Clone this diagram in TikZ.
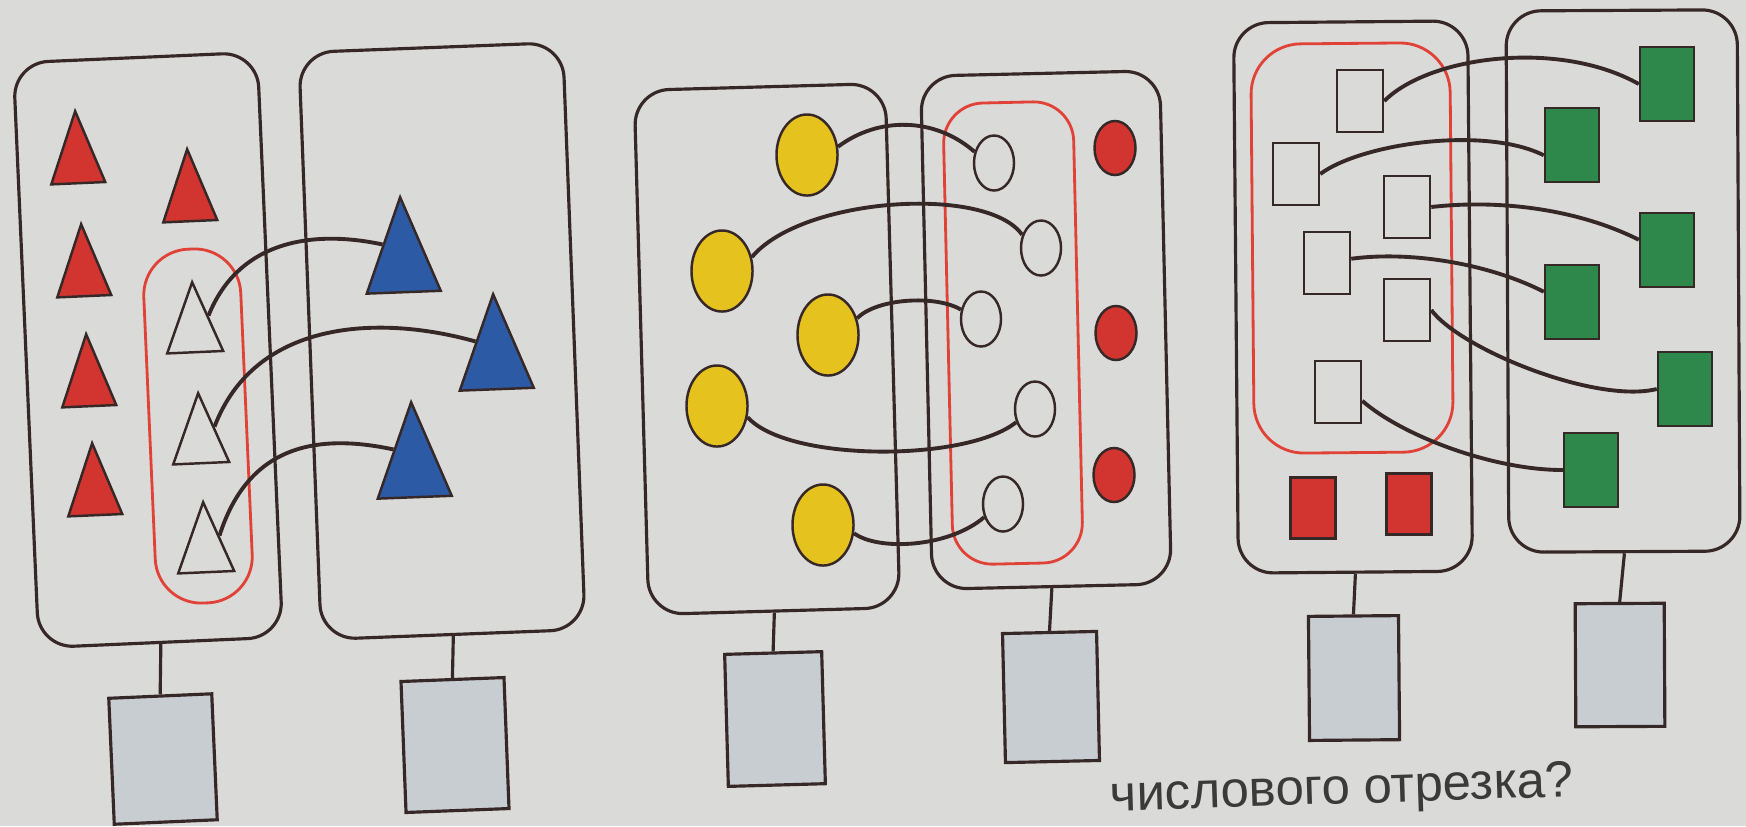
\documentclass[tikz,border=0pt]{standalone}
\usepackage{fontspec}
\setmainfont{Liberation Sans}
\usetikzlibrary{shapes.geometric}
\definecolor{paper}{HTML}{DADAD8}
\definecolor{ink}{HTML}{372828}
\definecolor{bookred}{HTML}{D2352F}
\definecolor{bookblue}{HTML}{2C5AA5}
\definecolor{bookyellow}{HTML}{E6C21F}
\definecolor{bookgreen}{HTML}{2E874B}
\definecolor{bookloop}{HTML}{E04237}
\definecolor{slotgrey}{HTML}{C8CDD2}
\definecolor{printgrey}{HTML}{3A3A3A}

\begin{document}
\begin{tikzpicture}[x=0.01cm,y=-0.01cm,
      setbox/.style={draw=ink,line width=0.9pt,rounded corners=0.35cm},
      pickbox/.style={draw=bookloop,line width=0.8pt},
      slot/.style={draw=ink,line width=0.9pt,fill=slotgrey},
      tri/.style={isosceles triangle,isosceles triangle stretches,shape border rotate=90,
        draw=ink,line width=0.7pt,inner sep=0pt,anchor=apex},
      blob/.style={ellipse,draw=ink,line width=0.7pt,inner sep=0pt},
      sq/.style={rectangle,draw=ink,line width=0.7pt,inner sep=0pt},
      wire/.style={draw=ink,line width=1.1pt}]
    \clip (0,0) rectangle (1746,826);
    \fill[paper] (0,0) rectangle (1746,826);

    % triangles
    \node[setbox,minimum width=2.44cm,minimum height=5.85cm,rotate=2.5] (setA) at (148,350) {};
    \node[setbox,minimum width=2.64cm,minimum height=5.87cm,rotate=2.2] (setB) at (442,341) {};
    \node[pickbox,minimum width=0.97cm,minimum height=3.54cm,rounded corners=0.46cm,rotate=2.5] (pickA) at (198,426) {};
    \foreach \x/\y [count=\k] in {75/108,187/146,81/221,86/331,92/440}{
      \node[tri,fill=bookred,minimum width=0.54cm,minimum height=0.72cm,rotate=2.5] (red\k) at (\x,\y) {};
    }
    \foreach \x/\y [count=\k] in {192/279,198/390,203/499}{
      \node[tri,minimum width=0.56cm,minimum height=0.70cm,rotate=2.5] (w\k) at (\x,\y) {};
    }
    \foreach \x/\y [count=\k] in {400/194,493/291,411/399}{
      \node[tri,fill=bookblue,minimum width=0.74cm,minimum height=0.95cm,rotate=2.2] (b\k) at (\x,\y) {};
    }
    \draw[wire] (w1.right side) .. controls +(30,-75) and +(-70,-15) .. (b1.left side);
    \draw[wire] (w2.right side) .. controls +(40,-105) and +(-100,-28) .. (b2.left side);
    \draw[wire] (w3.right side) .. controls +(30,-95) and +(-70,-15) .. (b3.left side);
    \node[slot,minimum width=1.03cm,minimum height=1.26cm,rotate=2.5] (slotA) at (163,759) {};
    \node[slot,minimum width=1.03cm,minimum height=1.31cm,rotate=2.2] (slotB) at (455,745) {};
    \draw[wire,line width=0.9pt] (setA.south) -- (slotA.north);
    \draw[wire,line width=0.9pt] (setB.south) -- (slotB.north);

    % circles
    \node[setbox,minimum width=2.51cm,minimum height=5.24cm,rotate=1.6] (setC) at (767,349) {};
    \node[setbox,minimum width=2.39cm,minimum height=5.13cm,rotate=1.3] (setD) at (1046,330) {};
    \node[pickbox,minimum width=1.30cm,minimum height=4.61cm,rounded corners=0.4cm,rotate=1.3] (pickB) at (1013,333) {};
    \foreach \x/\y [count=\k] in {807/155,722/271,828/335,717/406,823/525}{
      \node[blob,fill=bookyellow,minimum width=0.61cm,minimum height=0.81cm] (y\k) at (\x,\y) {};
    }
    \foreach \x/\y [count=\k] in {994/163,1041/248,981/319,1035/409,1003/504}{
      \node[blob,minimum width=0.40cm,minimum height=0.55cm] (o\k) at (\x,\y) {};
    }
    \foreach \x/\y [count=\k] in {1115/148,1116/333,1114/475}{
      \node[blob,fill=bookred,minimum width=0.41cm,minimum height=0.54cm] (rd\k) at (\x,\y) {};
    }
    \draw[wire] (y1.15) .. controls +(40,-30) and +(-40,-35) .. (o1.150);
    \draw[wire] (y2.25) .. controls +(50,-60) and +(-35,-50) .. (o2.145);
    \draw[wire] (y3.30) .. controls +(20,-20) and +(-25,-15) .. (o3.155);
    \draw[wire] (y4.-20) .. controls +(40,45) and +(-50,40) .. (o4.215);
    \draw[wire] (y5.-15) .. controls +(25,18) and +(-35,30) .. (o5.215);
    \node[slot,minimum width=0.97cm,minimum height=1.32cm,rotate=1.6] (slotC) at (775,719) {};
    \node[slot,minimum width=0.94cm,minimum height=1.29cm,rotate=1.3] (slotD) at (1051,697) {};
    \draw[wire,line width=0.9pt] (setC.south) -- (slotC.north);
    \draw[wire,line width=0.9pt] (setD.south) -- (slotD.north);

    % squares
    \node[setbox,minimum width=2.34cm,minimum height=5.50cm,rotate=0.5] (setE) at (1353,297) {};
    \node[setbox,minimum width=2.31cm,minimum height=5.41cm,rotate=0.3] (setF) at (1623,281) {};
    \node[pickbox,minimum width=1.99cm,minimum height=4.09cm,rounded corners=0.5cm,rotate=0.5] (pickC) at (1352,248) {};
    \foreach \x/\y [count=\k] in {1360/101,1296/174,1407/207,1327/263,1407/310,1338/392}{
      \node[sq,minimum width=0.46cm,minimum height=0.62cm] (s\k) at (\x,\y) {};
    }
    \foreach \x/\y [count=\k] in {1313/508,1409/504}{
      \node[sq,fill=bookred,minimum width=0.45cm,minimum height=0.61cm] (rs\k) at (\x,\y) {};
    }
    \foreach \x/\y [count=\k] in {1667/84,1572/145,1667/250,1572/302,1685/389,1591/470}{
      \node[sq,fill=bookgreen,minimum width=0.54cm,minimum height=0.74cm] (g\k) at (\x,\y) {};
    }
    \draw[wire] (s1.east) .. controls +(45,-45) and +(-80,-45) .. (g1.west);
    \draw[wire] (s2.east) .. controls +(40,-30) and +(-60,-30) .. (g2.200);
    \draw[wire] (s3.east) .. controls +(70,-8) and +(-60,-30) .. (g3.160);
    \draw[wire] (s4.10) .. controls +(60,-8) and +(-55,-28) .. (g4.160);
    \draw[wire] (s5.east) .. controls +(30,40) and +(-60,15) .. (g5.west);
    \draw[wire] (s6.-20) .. controls +(40,35) and +(-70,0) .. (g6.west);
    \node[slot,minimum width=0.90cm,minimum height=1.24cm,rotate=0.5] (slotE) at (1354,678) {};
    \node[slot,minimum width=0.89cm,minimum height=1.23cm,rotate=0.3] (slotF) at (1620,665) {};
    \draw[wire,line width=0.9pt] (setE.south) -- (slotE.north);
    \draw[wire,line width=0.9pt] (setF.south) -- (slotF.north);

    \node[font=\fontsize{14.5}{17}\selectfont,text=printgrey,anchor=base west,
      inner sep=0pt,rotate=1.8] (question) at (1110,811) {числового отрезка?};
  \end{tikzpicture}
\end{document}
